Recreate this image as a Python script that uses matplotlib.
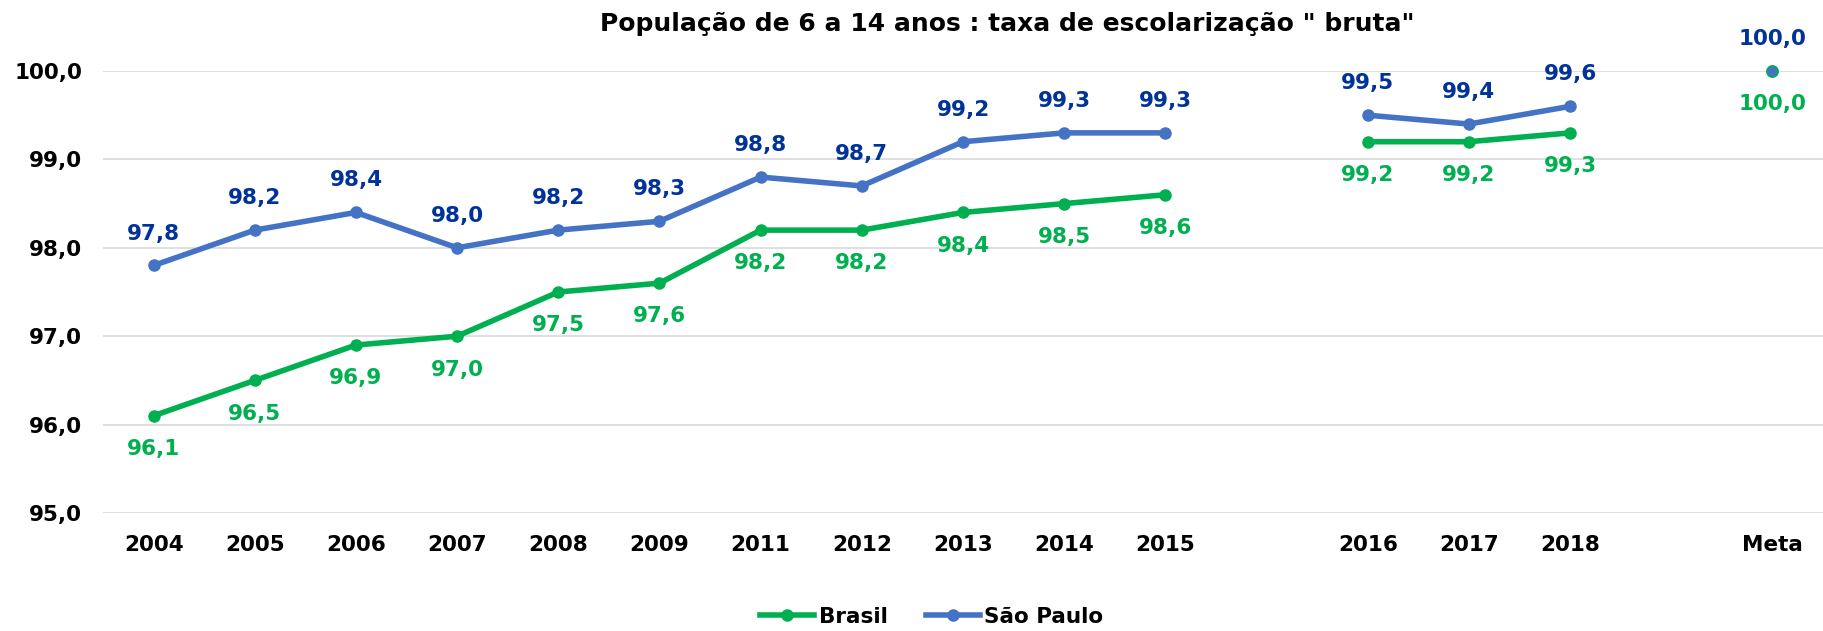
import numpy as np
import matplotlib
matplotlib.use("Agg")
import matplotlib.pyplot as plt
from matplotlib.lines import Line2D

categorias = ["2004", "2005", "2006", "2007", "2008", "2009", "2011", "2012", "2013",
              "2014", "2015", "", "2016", "2017", "2018", "", "Meta"]
brasil = [96.1, 96.5, 96.9, 97.0, 97.5, 97.6, 98.2, 98.2, 98.4, 98.5, 98.6, np.nan,
          99.2, 99.2, 99.3, np.nan, 100.0]
sao_paulo = [97.8, 98.2, 98.4, 98.0, 98.2, 98.3, 98.8, 98.7, 99.2, 99.3, 99.3, np.nan,
             99.5, 99.4, 99.6, np.nan, 100.0]
y_ticks = [95.0, 96.0, 97.0, 98.0, 99.0, 100.0]

VERDE = "#00B050"
AZUL = "#4472C4"
AZUL_TXT = "#003399"

plt.rcParams['font.family'] = ['DejaVu Sans']
plt.rcParams['font.weight'] = 'bold'

W, H = 1824, 631
fig = plt.figure(figsize=(W / 100, H / 100), dpi=100)
ax = fig.add_axes([103 / W, 1 - 513 / H, (1823 - 103) / W, (513 - 71) / H])

x = np.arange(len(categorias))
fs = 15.5
lw, ms = 4.0, 8.0

ax.plot(x[:-1], brasil[:-1], color=VERDE, lw=lw, marker='o', ms=ms, clip_on=False, zorder=3)
ax.plot(x[:-1], sao_paulo[:-1], color=AZUL, lw=lw, marker='o', ms=ms, clip_on=False, zorder=4)
# ponto da meta (os dois valores coincidem)
ax.plot(x[-1], brasil[-1], 'o', color=VERDE, ms=ms, clip_on=False, zorder=3)
ax.plot(x[-1], sao_paulo[-1], 'o', color=AZUL, mec=VERDE, mew=1.0, ms=ms, clip_on=False, zorder=4)

def fmt(v):
    return f"{v:.1f}".replace('.', ',')

for xi, b, s in zip(x, brasil, sao_paulo):
    if not np.isnan(s):
        ax.annotate(fmt(s), (xi, s), xytext=(0, 23), textcoords='offset points',
                    ha='center', va='center', color=AZUL_TXT, fontsize=fs,
                    fontweight='bold', annotation_clip=False)
    if not np.isnan(b):
        ax.annotate(fmt(b), (xi, b), xytext=(0, -24), textcoords='offset points',
                    ha='center', va='center', color=VERDE, fontsize=fs,
                    fontweight='bold', annotation_clip=False)

ax.set_xlim(-0.5, len(categorias) - 0.5)
ax.set_ylim(95, 100)
ax.set_yticks(y_ticks)
ax.set_yticklabels([fmt(v) for v in y_ticks], fontsize=fs, fontweight='bold')
ax.set_xticks(x)
ax.set_xticklabels(categorias, fontsize=fs, fontweight='bold')
ax.tick_params(axis='both', length=0)
ax.tick_params(axis='y', pad=15)
ax.tick_params(axis='x', pad=16)
ax.grid(axis='y', color='#D9D9D9', lw=1.2)
ax.set_axisbelow(True)
for sp in ax.spines.values():
    sp.set_visible(False)

fig.text(1007 / W, 1 - 24 / H, 'População de 6 a 14 anos : taxa de escolarização " bruta"',
         ha='center', va='center', fontsize=18, fontweight='bold')

handles = [Line2D([], [], color=VERDE, lw=lw, marker='o', ms=ms),
           Line2D([], [], color=AZUL, lw=lw, marker='o', ms=ms)]
fig.legend(handles, ["Brasil", "São Paulo"], loc='center',
           bbox_to_anchor=(932 / W, 1 - 617 / H), ncol=2, frameon=False,
           prop={'size': fs, 'weight': 'bold'}, handlelength=2.5,
           handletextpad=0.2, columnspacing=1.8)

fig.savefig("out.png", dpi=100)
